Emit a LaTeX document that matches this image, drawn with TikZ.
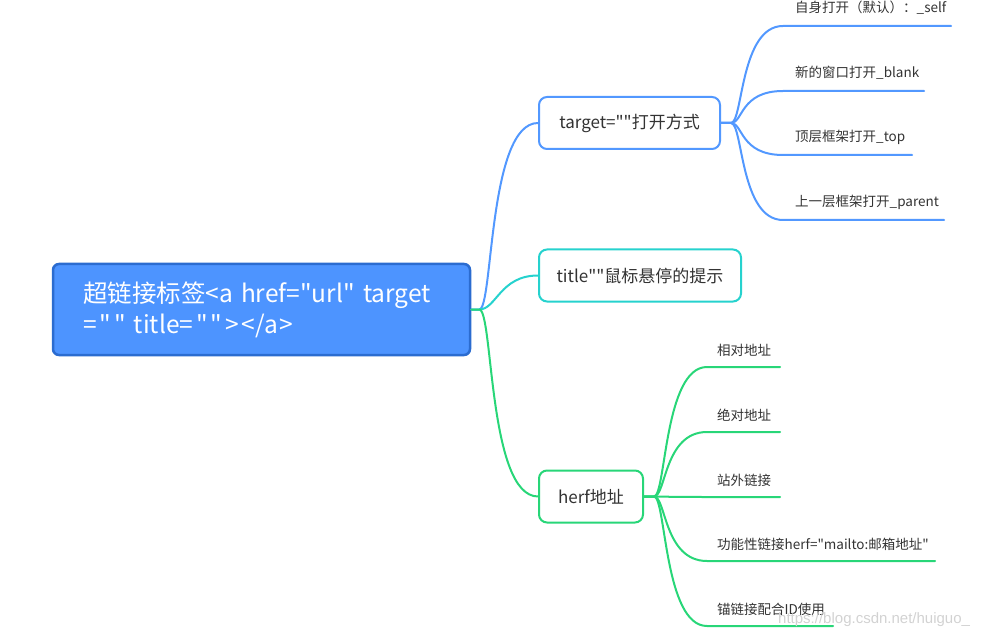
\documentclass[tikz,border=0pt]{standalone}
\usepackage{fontspec}
\setmainfont{Noto Sans CJK SC}[Ligatures=TeXOff]
\newfontfamily\markfont{Liberation Sans}

\definecolor{mainfill}{RGB}{77,148,255}
\definecolor{mainedge}{RGB}{43,108,208}
\definecolor{lineblue}{RGB}{82,152,255}
\definecolor{lineteal}{RGB}{38,210,206}
\definecolor{linegreen}{RGB}{40,214,120}
\definecolor{txt}{RGB}{51,51,51}

\tikzset{
  topic/.style={draw, line width=2pt, rounded corners=8pt, fill=white, minimum height=52pt,
    inner xsep=0pt, anchor=west, text=txt, font=\fontsize{17}{20}\selectfont},
  leaf/.style={anchor=base west, inner sep=0pt, text=txt, font=\fontsize{13.5}{16}\selectfont},
  branch/.style={line width=2pt, line cap=round},
}

\begin{document}
\begin{tikzpicture}[x=1pt, y=-1pt]
\useasboundingbox (0,0) rectangle (990,636);

% central topic
\node[draw=mainedge, fill=mainfill, line width=2.5pt, rounded corners=6pt, text=white,
  minimum width=417pt, minimum height=91pt, text width=357pt, inner xsep=30pt, align=left,
  font=\fontsize{24.5}{31}\selectfont] (root) at (261.5,309.5)
  {\mbox{超链接标签<a href="url" target}\\
   \mbox{=\kern3pt"\kern3pt" title=\kern3pt"\kern3pt"\kern3pt>\kern2pt<\kern1pt/a\kern1pt>}};

% second level
\node[topic, draw=lineblue, minimum width=181pt] (tgt) at (538,123) {target=""打开方式};
\node[topic, draw=lineteal, minimum width=202pt] (ttl) at (538,275.5) {title""鼠标悬停的提示};
\node[topic, draw=linegreen, minimum width=104pt] (herf) at (538,496.5) {herf地址};

\draw[branch, lineblue] (root.east) -- ++(8,0) .. controls +(14,0) and +(-50,0) .. (tgt.west);
\draw[branch, lineteal] (root.east) -- ++(8,0) .. controls +(17,0) and +(-38,0) .. (ttl.west);
\draw[branch, linegreen] (root.east) -- ++(8,0) .. controls +(14,0) and +(-50,0) .. (herf.west);

% target leaves
\foreach \i/\y/\e/\t in {1/26/951/{自身打开（默认）：\_self}, 2/91/924/{新的窗口打开\_blank},
    3/155/912/{顶层框架打开\_top}, 4/220/944/{上一层框架打开\_parent}} {
  \coordinate (bs\i) at (783,\y);
  \coordinate (be\i) at (\e,\y);
  \draw[branch, lineblue] (tgt.east) -- ++(10,0) .. controls +(12,0) and +(-43,0) .. (bs\i) -- (be\i);
  \node[leaf] (bl\i) at (795,\y-13) {\t};
}

% herf leaves
\foreach \i/\y/\e/\t in {1/367/780/{相对地址}, 2/432/780/{绝对地址}, 3/497/780/{站外链接},
    4/561/935/{功能性链接herf="mailto:邮箱地址"}, 5/626/833/{锚链接配合ID使用}} {
  \coordinate (gs\i) at (707,\y);
  \coordinate (ge\i) at (\e,\y);
  \draw[branch, linegreen] (herf.east) -- ++(10,0) .. controls +(12,0) and +(-43,0) .. (gs\i) -- (ge\i);
  \node[leaf] (gl\i) at (717,\y-12) {\t};
}

% watermark
\node[anchor=base west, inner sep=0pt, text=gray!35, font=\markfont\fontsize{15}{15}\selectfont]
  (mark) at (778,623) {https://blog.csdn.net/huiguo\_};

\end{tikzpicture}
\end{document}
